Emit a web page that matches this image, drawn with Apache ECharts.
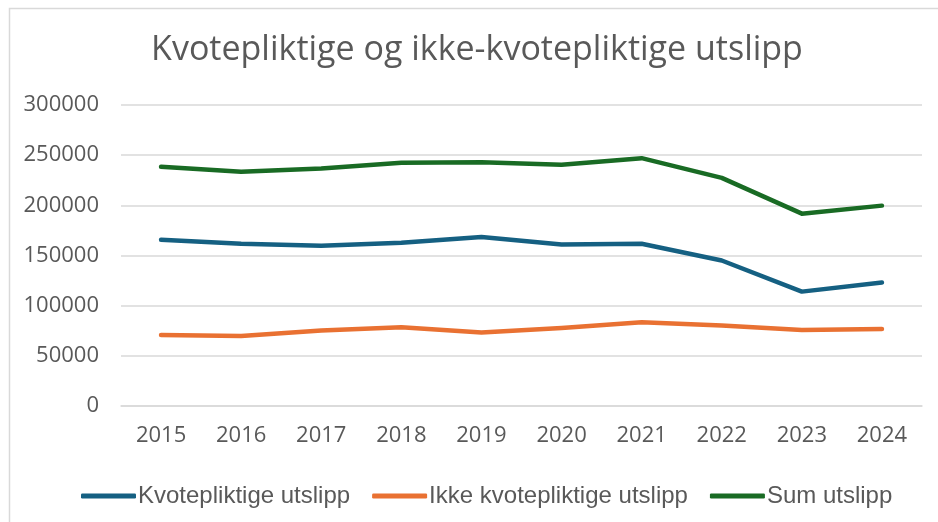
<!DOCTYPE html>
<html>
<head>
<meta charset="utf-8">
<script src="https://cdn.jsdelivr.net/npm/echarts@6/dist/echarts.min.js"></script>
<style>
html,body{margin:0;padding:0;background:#fff;}
#chart{width:938px;height:522px;}
</style>
</head>
<body>
<div id="chart"></div>
<script>
const titleText = 'Kvotepliktige og ikke-kvotepliktige utslipp';
const years = ['2015','2016','2017','2018','2019','2020','2021','2022','2023','2024'];
const seriesNames = ['Kvotepliktige utslipp','Ikke kvotepliktige utslipp','Sum utslipp'];
const kvotepliktige = [165700,161700,159700,162700,168400,161000,161700,145000,114000,123000];
const ikkeKvotepliktige = [70700,69700,75200,78600,73300,77700,83400,80300,75700,76700];
const sumUtslipp = [238400,233400,236700,242400,243000,240400,247000,227400,191700,199700];
const colors = ['#156082','#E97132','#196B24'];

const chart = echarts.init(document.getElementById('chart'), null, {renderer:'canvas'});
const mk = (name, data, color) => ({
  name, type:'line', data, symbol:'none', smooth:false,
  lineStyle:{color, width:4.5, cap:'round', join:'round'},
  itemStyle:{color},
  emphasis:{disabled:true}
});
chart.setOption({
  animation:false,
  backgroundColor:'#fff',
  graphic:[
    {type:'rect', shape:{x:9.5,y:8.5,width:1000,height:600}, style:{fill:'none',stroke:'#d9d9d9',lineWidth:1.5}, silent:true, z:-1},
    {type:'text', x:477, y:33, style:{text:titleText, font:'34px "Open Sans", sans-serif', fill:'#595959', textAlign:'center', textVerticalAlign:'top'}}
  ],
  grid:{left:121, right:16, top:105, bottom:116, containLabel:false},
  legend:{
    left:76, top:479, itemWidth:55, itemHeight:5, itemGap:22,
    icon:'roundRect',
    textStyle:{fontFamily:'"Liberation Sans", Arial, sans-serif', fontSize:24, color:'#595959', padding:[0,0,0,-3]},
    data:seriesNames
  },
  xAxis:{
    type:'category', data:years, boundaryGap:true,
    axisLine:{lineStyle:{color:'#d9d9d9', width:1.5}},
    axisTick:{show:false},
    axisLabel:{fontFamily:'"Open Sans", sans-serif', fontSize:22, color:'#595959', margin:19}
  },
  yAxis:{
    type:'value', min:0, max:300000, interval:50000,
    axisLine:{show:false}, axisTick:{show:false},
    splitLine:{lineStyle:{color:'#d9d9d9', width:1.5}},
    axisLabel:{fontFamily:'"Open Sans", sans-serif', fontSize:22, color:'#595959', margin:22, formatter:v => String(v)}
  },
  series:[
    mk(seriesNames[0], kvotepliktige, colors[0]),
    mk(seriesNames[1], ikkeKvotepliktige, colors[1]),
    mk(seriesNames[2], sumUtslipp, colors[2])
  ]
});
</script>
</body>
</html>
